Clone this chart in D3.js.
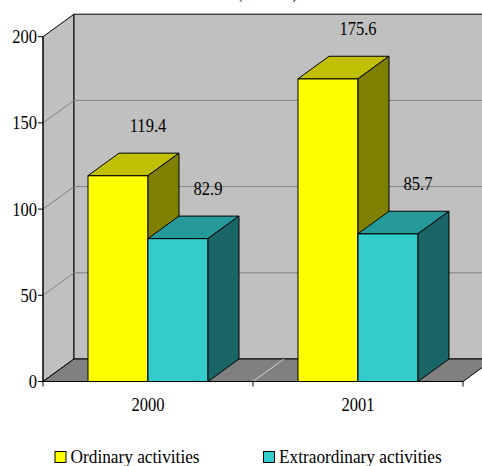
<!DOCTYPE html>
<html>
<head>
<meta charset="utf-8">
<script src="https://cdn.jsdelivr.net/npm/d3@7"></script>
<style>
  html, body { margin: 0; padding: 0; background: #fff; }
  svg { display: block; }
</style>
</head>
<body>
<svg id="chart" width="482" height="466"></svg>
<script>
const years = ['2000', '2001'];
const seriesNames = ['Ordinary activities', 'Extraordinary activities'];
const ordinary = [119.4, 175.6];
const extraordinary = [82.9, 85.7];
const yTicks = [0, 50, 100, 150, 200];
const titleText = '(EUR m)';

const COLORS = [
  {front: '#ffff00', top: '#c0c000', side: '#808000'},
  {front: '#33cccc', top: '#269999', side: '#1a6666'},
];
const DX = 31, DY = -22.5;   // 3d depth offset
const SQUEEZE = 0.87;        // glyphs in the original are horizontally narrowed

const svg = d3.select('#chart');

const y = d3.scaleLinear().domain([0, 200]).range([381.5, 36.7]);
const x0 = d3.scaleBand().domain(years).range([43, 463]);
const x1 = d3.scaleBand().domain(seriesNames).range([0, x0.bandwidth()]).paddingOuter(0.75);

const rows = years.map((year, i) => ({
  year,
  bars: [
    {series: 0, value: ordinary[i]},
    {series: 1, value: extraordinary[i]},
  ],
}));

const pts = p => p.map(d => d.join(',')).join(' ');

function label(g, x, yy, text, anchor, size, sx) {
  return g.append('text')
    .attr('transform', `translate(${x},${yy}) scale(${sx || SQUEEZE},1)`)
    .attr('text-anchor', anchor)
    .attr('font-family', 'Liberation Serif')
    .attr('font-size', size || 19)
    .attr('fill', '#000')
    .text(text);
}

// title, mostly cut off at the top edge like in the original
label(svg, 267.5, -2, titleText, 'middle');

const walls = svg.append('g').attr('class', 'layer layer-walls');
const xl = x0.range()[0], xr = x0.range()[1];
const yb = y(0), yt = y(200);

// left side wall
walls.append('polygon')
  .attr('points', pts([[xl, yt], [xl + DX, yt + DY], [xl + DX, yb + DY], [xl, yb]]))
  .attr('fill', '#c0c0c0').attr('stroke', '#000');

// back wall
walls.append('polygon')
  .attr('points', pts([[xl + DX, yt + DY], [xr + DX, yt + DY], [xr + DX, yb + DY], [xl + DX, yb + DY]]))
  .attr('fill', '#c0c0c0').attr('stroke', '#000');

// gridlines
const grid = yTicks.filter(t => t > 0 && t < 200);
walls.selectAll('.grid-side').data(grid).enter()
  .append('line')
    .attr('class', 'grid-side')
    .attr('x1', xl).attr('y1', d => y(d))
    .attr('x2', xl + DX).attr('y2', d => y(d) + DY)
    .attr('stroke', '#808080');
walls.selectAll('.grid-back').data(grid).enter()
  .append('line')
    .attr('class', 'grid-back')
    .attr('x1', xl + DX).attr('y1', d => y(d) + DY)
    .attr('x2', xr + DX).attr('y2', d => y(d) + DY)
    .attr('stroke', '#808080');

// floor
walls.append('polygon')
  .attr('points', pts([[xl, yb], [xr, yb], [xr + DX, yb + DY], [xl + DX, yb + DY]]))
  .attr('fill', '#808080').attr('stroke', '#000');
walls.selectAll('.floor-div').data(years.slice(1)).enter()
  .append('line')
    .attr('class', 'floor-div')
    .attr('x1', d => x0(d)).attr('y1', yb)
    .attr('x2', d => x0(d) + DX).attr('y2', yb + DY)
    .attr('stroke', '#d4d4d4');

// axes
const axes = svg.append('g').attr('class', 'layer layer-axes');
axes.append('line')
  .attr('x1', xl).attr('y1', yt).attr('x2', xl).attr('y2', yb)
  .attr('stroke', '#000');
axes.append('line')
  .attr('x1', xl).attr('y1', yb).attr('x2', xr).attr('y2', yb)
  .attr('stroke', '#000');

axes.selectAll('.ytick').data(yTicks).enter()
  .append('line')
    .attr('class', 'ytick')
    .attr('x1', xl - 5).attr('x2', xl)
    .attr('y1', d => y(d)).attr('y2', d => y(d))
    .attr('stroke', '#000');
yTicks.forEach(t => label(axes, xl - 6, y(t) + 6.5, t, 'end'));

const xTickPos = years.map(d => x0(d)).concat([xr]);
axes.selectAll('.xtick').data(xTickPos).enter()
  .append('line')
    .attr('class', 'xtick')
    .attr('x1', d => d).attr('x2', d => d)
    .attr('y1', yb).attr('y2', yb + 5)
    .attr('stroke', '#000');
years.forEach(yr => label(axes, x0(yr) + x0.bandwidth() / 2, 410.5, yr, 'middle'));

// bars
const bars = svg.append('g').attr('class', 'layer layer-bars');
rows.forEach(row => {
  row.bars.forEach(b => {
    const c = COLORS[b.series];
    const bx = x0(row.year) + x1(seriesNames[b.series]);
    const bw = x1.bandwidth();
    const by = y(b.value);
    const g = bars.append('g').attr('class', 'bar');
    g.append('rect')
      .attr('x', bx).attr('y', by)
      .attr('width', bw).attr('height', yb - by)
      .attr('fill', c.front).attr('stroke', '#000');
    g.append('polygon')
      .attr('points', pts([[bx, by], [bx + DX, by + DY], [bx + bw + DX, by + DY], [bx + bw, by]]))
      .attr('fill', c.top).attr('stroke', '#000').attr('stroke-linejoin', 'round');
    g.append('polygon')
      .attr('points', pts([[bx + bw, by], [bx + bw + DX, by + DY], [bx + bw + DX, yb + DY], [bx + bw, yb]]))
      .attr('fill', c.side).attr('stroke', '#000').attr('stroke-linejoin', 'round');
  });
});

// value labels
const labels = svg.append('g').attr('class', 'layer layer-labels');
rows.forEach(row => {
  row.bars.forEach(b => {
    const bx = x0(row.year) + x1(seriesNames[b.series]) + x1.bandwidth() / 2 + DX - 1;
    label(labels, bx, y(b.value) + DY - 21, b.value.toFixed(1), 'middle');
  });
});

// legend
const legend = svg.append('g').attr('class', 'layer layer-legend');
const legendX = [55, 263.5];
seriesNames.forEach((name, i) => {
  legend.append('rect')
    .attr('x', legendX[i]).attr('y', 451.5)
    .attr('width', 11).attr('height', 11)
    .attr('fill', COLORS[i].front).attr('stroke', '#000');
  label(legend, legendX[i] + 15.5, 463, name, 'start', 19, 0.91);
});
</script>
</body>
</html>
